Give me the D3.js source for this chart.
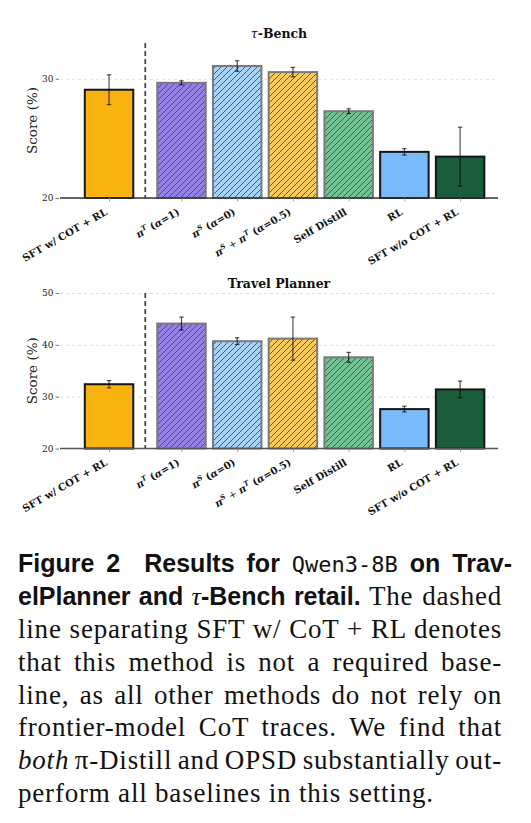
<!DOCTYPE html>
<html><head><meta charset="utf-8">
<script src="https://cdn.jsdelivr.net/npm/d3@7"></script>
<style>body{margin:0;background:#fff} svg{display:block}</style>
</head><body><svg id="c" width="531" height="823"></svg>
<script>
// ---------------- data ----------------
const categories = ["SFT w/ COT + RL", "πT (α=1)", "πS (α=0)", "πS + πT (α=0.5)", "Self Distill", "RL", "SFT w/o COT + RL"];
const positions = [0, 1.3, 2.3, 3.3, 4.3, 5.3, 6.3];
const separatorPos = 0.65;
const tauValues = [29.08, 29.66, 31.07, 30.56, 27.28, 23.87, 23.47];
const tauErrors = [1.25, 0.17, 0.44, 0.40, 0.20, 0.27, 2.47];
const travelValues = [32.4, 44.1, 40.7, 41.2, 37.6, 27.6, 31.4];
const travelErrors = [0.7, 1.25, 0.65, 4.15, 0.95, 0.55, 1.6];
const tauTicks = [20, 30];
const travelTicks = [20, 30, 40, 50];
const barColors = ["#F8B311", "#9580E3", "#A8D2F7", "#FACB5A", "#74C293", "#78BAFA", "#1B5C3A"];
const hatched = [false, true, true, true, true, false, false];

// rich label parts: [text, style]
const labelParts = [
  [["SFT w/ COT + RL", "b"]],
  [["π", "mi"], ["T", "sup"], [" (", "b"], ["α", "mi"], ["=1)", "b"]],
  [["π", "mi"], ["S", "sup"], [" (", "b"], ["α", "mi"], ["=0)", "b"]],
  [["π", "mi"], ["S", "sup"], [" + ", "m"], ["π", "mi"], ["T", "sup"], [" (", "b"], ["α", "mi"], ["=0.5)", "b"]],
  [["Self Distill", "b"]],
  [["RL", "b"]],
  [["SFT w/o COT + RL", "b"]]
];

const svg = d3.select("#c");
const x = d3.scaleLinear().domain([-0.88, 6.98]).range([60, 498]);
const barW = 0.87;
const serif = "'DejaVu Serif', serif";

const defs = svg.append("defs");
const pat = defs.append("pattern").attr("id", "hatch").attr("patternUnits", "userSpaceOnUse")
  .attr("width", 6).attr("height", 6);
pat.append("path").attr("d", "M-1,7 L7,-1 M-1,1 L1,-1 M5,7 L7,5")
  .attr("stroke", "#4a4a4a").attr("stroke-width", 0.9).attr("fill", "none");

const panels = [
  {title: [["τ", "ti"], ["-Bench", "tb"]], values: tauValues, errors: tauErrors, ticks: tauTicks, domain: [20, 33], top: 43, bottom: 198, titleY: 38, axisColor: "#333"},
  {title: [["Travel Planner", "tb"]], values: travelValues, errors: travelErrors, ticks: travelTicks, domain: [20, 50], top: 293, bottom: 448.5, titleY: 288, axisColor: "#555"}
];

panels.forEach(p => {
  const y = d3.scaleLinear().domain(p.domain).range([p.bottom, p.top]);
  const g = svg.append("g");
  const [x0, x1] = x.range();

  // gridlines
  const grid = g.append("g").attr("transform", `translate(${x0},0)`)
    .call(d3.axisLeft(y).tickValues(p.ticks.filter(t => t > p.domain[0])).tickSize(-(x1 - x0)).tickFormat(""));
  grid.select(".domain").remove();
  grid.selectAll("line").attr("stroke", "#d8d8d8").attr("stroke-width", 0.8).attr("stroke-dasharray", "3,3");

  // y axis ticks + labels
  const ya = g.append("g").attr("transform", `translate(${x0 - 1},0)`)
    .call(d3.axisLeft(y).tickValues(p.ticks).tickSize(3.5).tickPadding(2).tickFormat(d3.format("d")));
  ya.select(".domain").remove();
  ya.selectAll("line").attr("stroke", "#555").attr("stroke-width", 0.8);
  ya.selectAll("text").attr("font-family", serif).attr("font-size", 9).attr("fill", "#222");

  // y label
  g.append("text").attr("transform", `translate(37,${(p.top + p.bottom) / 2}) rotate(-90)`)
    .attr("text-anchor", "middle").attr("font-family", serif).attr("font-size", 13.5).attr("fill", "#222")
    .text("Score (%)");

  // title
  const tt = g.append("text").attr("x", (x0 + x1) / 2).attr("y", p.titleY).attr("text-anchor", "middle")
    .attr("font-family", serif).attr("font-size", 12.5).attr("font-weight", "bold").attr("fill", "#111");
  p.title.forEach(([t, s]) => {
    const ts = tt.append("tspan").text(t);
    if (s === "ti") ts.attr("font-style", "italic").attr("font-weight", "normal");
  });

  // bars
  const w = x(barW) - x(0);
  const bars = g.append("g").selectAll("g").data(p.values).join("g");
  bars.append("rect")
    .attr("x", (d, i) => x(positions[i] - barW / 2)).attr("width", w)
    .attr("y", d => y(d)).attr("height", d => y(p.domain[0]) - y(d))
    .attr("fill", (d, i) => barColors[i]);
  bars.each(function (d, i) {
    if (!hatched[i]) return;
    d3.select(this).append("rect")
      .attr("x", x(positions[i] - barW / 2)).attr("width", w)
      .attr("y", y(d)).attr("height", y(p.domain[0]) - y(d))
      .attr("fill", "url(#hatch)");
  });
  bars.append("rect")
    .attr("x", (d, i) => x(positions[i] - barW / 2)).attr("width", w)
    .attr("y", d => y(d)).attr("height", d => y(p.domain[0]) - y(d))
    .attr("fill", "none")
    .attr("stroke", (d, i) => hatched[i] ? "#7a7a7a" : "#151515")
    .attr("stroke-width", 2);

  // error bars
  const eb = g.append("g").attr("stroke", "#000").attr("stroke-opacity", 0.75).attr("stroke-width", 1.1);
  p.values.forEach((v, i) => {
    const cx = x(positions[i]);
    const lo = y(v - p.errors[i]), hi = y(v + p.errors[i]);
    eb.append("line").attr("x1", cx).attr("x2", cx).attr("y1", lo).attr("y2", hi);
    eb.append("line").attr("x1", cx - 2.2).attr("x2", cx + 2.2).attr("y1", lo).attr("y2", lo);
    eb.append("line").attr("x1", cx - 2.2).attr("x2", cx + 2.2).attr("y1", hi).attr("y2", hi);
  });

  // separator
  g.append("line").attr("x1", x(separatorPos)).attr("x2", x(separatorPos))
    .attr("y1", p.top).attr("y2", p.bottom)
    .attr("stroke", "#444").attr("stroke-width", 1.7).attr("stroke-dasharray", "5,3");

  // x axis
  const xa = g.append("g").attr("transform", `translate(0,${p.bottom})`)
    .call(d3.axisBottom(x).tickValues(positions).tickSize(3.5).tickFormat(""));
  xa.select(".domain").attr("stroke", p.axisColor).attr("stroke-width", 1.6).attr("d", `M${x0},0H${x1}`);
  xa.selectAll(".tick line").attr("stroke", "#888").attr("stroke-width", 0.8);

  // rotated labels
  labelParts.forEach((parts, i) => {
    const cx = x(positions[i]);
    const t = g.append("text").attr("transform", `translate(${cx - 1},${p.bottom + 16}) rotate(-30)`)
      .attr("text-anchor", "end").attr("font-family", serif).attr("font-size", 10)
      .attr("font-weight", "bold").attr("fill", "#111");
    let shifted = false;
    parts.forEach(([txt, s]) => {
      const ts = t.append("tspan").text(txt);
      if (s === "mi") ts.attr("font-style", "italic");
      if (s === "m") ts.attr("font-weight", "normal");
      if (s === "sup") { ts.attr("font-size", 7).attr("font-style", "italic").attr("dy", -4); shifted = true; }
      else if (shifted) { ts.attr("dy", 4); shifted = false; }
    });
  });
});

// ---------------- caption ----------------
const captionLines = [
  [["Figure 2", "bs"], ["  ", "gap"], ["Results for ", "bs"], ["Qwen3-8B", "tt"], [" on Trav-", "bs"]],
  [["elPlanner and ", "bs"], ["τ", "bsi"], ["-Bench retail.", "bs"], [" The dashed", "r"]],
  [["line separating SFT w/ CoT + RL denotes", "r"]],
  [["that this method is not a required base-", "r"]],
  [["line, as all other methods do not rely on", "r"]],
  [["frontier-model CoT traces. We find that", "r"]],
  [["both", "ri"], [" π-Distill and OPSD substantially out-", "r"]],
  [["perform all baselines in this setting.", "r"]]
];
const capX = 18, capRight = 502, capY0 = 572.3, capLead = 32.8;
captionLines.forEach((parts, li) => {
  const t = svg.append("text").attr("x", capX).attr("y", capY0 + li * capLead)
    .attr("font-size", 25.5).attr("fill", "#111").style("white-space", "pre");
  let spaces = 0;
  parts.forEach(([txt, s]) => {
    const ts = t.append("tspan").text(txt);
    if (s === "bs" || s === "bsi") ts.attr("font-family", "'Liberation Sans', Arial, sans-serif").attr("font-weight", "bold").attr("font-size", 25);
    if (s === "bsi") ts.attr("font-family", "'Liberation Serif', serif").attr("font-style", "italic").attr("font-weight", "normal").attr("font-size", 26);
    if (s === "tt") ts.attr("font-family", "'DejaVu Sans Mono', monospace").attr("font-size", 22);
    if (s === "gap") ts.attr("font-family", "'Liberation Sans', sans-serif").attr("font-size", 25);
    if (s === "r" || s === "ri") ts.attr("font-family", "'Liberation Serif', serif").attr("font-size", 27).attr("letter-spacing", 0.8);
    if (s === "ri") ts.attr("font-style", "italic");
    if (s !== "gap") spaces += (txt.match(/ /g) || []).length;
  });
  if (li < captionLines.length - 1) {
    const wNat = t.node().getComputedTextLength();
    const extra = (capRight - capX - wNat) / spaces;
    t.style("word-spacing", extra + "px");
  }
});
</script>
</body></html>
